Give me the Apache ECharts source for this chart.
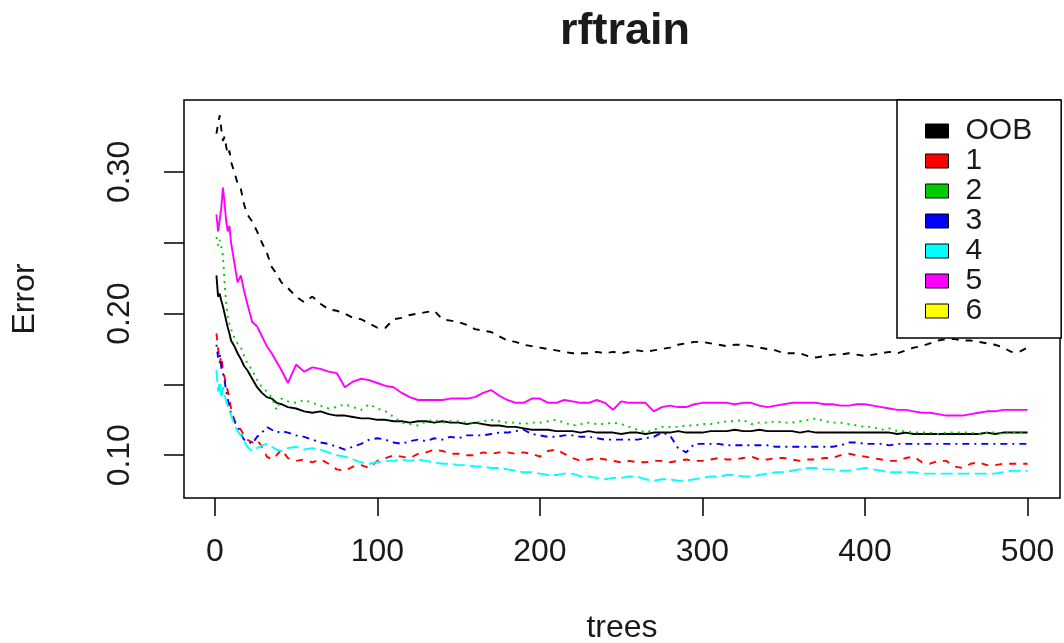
<!DOCTYPE html>
<html>
<head>
<meta charset="utf-8">
<script src="https://cdn.jsdelivr.net/npm/echarts@6/dist/echarts.min.js"></script>
<style>
html,body{margin:0;padding:0;background:#fff;}
#chart{width:1064px;height:643px;}
</style>
</head>
<body>
<div id="chart"></div>
<script>
// ---- data ----
const trees = [1,2,3,4,5,6,7,8,9,10,
  12,14,16,18,20,
  23,26,29,32,35,38,41,
  45,50,55,60,65,70,75,80,85,90,95,100,
  105,110,115,120,125,130,135,140,145,150,155,160,165,170,175,180,185,190,195,200,
  205,210,215,220,225,230,235,240,245,250,255,260,265,270,275,280,285,290,295,300,
  305,310,315,320,325,330,335,340,345,350,355,360,365,370,375,380,385,390,395,400,
  405,410,415,420,425,430,435,440,445,450,455,460,465,470,475,480,485,490,495,500];

const seriesNames = ['OOB','1','2','3','4','5','6'];
const legendColors = ['#000000','#ff0000','#00cd00','#0000ff','#00ffff','#ff00ff','#ffff00'];

const errOOB = [0.227,0.212,0.214,0.209,0.205,0.200,0.195,0.190,0.186,0.181,
  0.177,0.172,0.168,0.163,0.160,
  0.154,0.148,0.144,0.141,0.140,0.137,0.136,
  0.134,0.133,0.131,0.130,0.131,0.129,0.128,0.128,0.127,0.126,0.126,0.125,
  0.125,0.124,0.124,0.123,0.124,0.124,0.123,0.124,0.123,0.123,0.122,0.123,0.122,0.121,0.121,0.120,0.120,0.119,0.118,0.118,
  0.118,0.117,0.117,0.117,0.116,0.117,0.116,0.116,0.116,0.115,0.116,0.116,0.115,0.116,0.116,0.116,0.117,0.116,0.116,0.116,
  0.117,0.117,0.117,0.118,0.117,0.117,0.118,0.117,0.117,0.117,0.117,0.116,0.117,0.116,0.116,0.116,0.116,0.116,0.116,0.116,
  0.116,0.116,0.116,0.115,0.116,0.115,0.115,0.115,0.115,0.115,0.115,0.115,0.115,0.115,0.116,0.115,0.116,0.116,0.116,0.116];

const err1 = [0.186,0.176,0.165,0.170,0.160,0.155,0.150,0.145,0.139,0.133,
  0.125,0.121,0.118,0.114,0.111,
  0.109,0.111,0.106,0.099,0.097,0.100,0.104,
  0.098,0.096,0.097,0.095,0.097,0.094,0.090,0.089,0.092,0.093,0.091,0.096,
  0.098,0.100,0.099,0.098,0.101,0.102,0.104,0.103,0.101,0.101,0.100,0.100,0.102,0.101,0.102,0.102,0.101,0.102,0.101,0.099,
  0.103,0.104,0.101,0.098,0.096,0.097,0.098,0.097,0.096,0.095,0.096,0.095,0.095,0.096,0.096,0.095,0.096,0.097,0.096,0.096,
  0.097,0.098,0.097,0.097,0.098,0.099,0.097,0.097,0.098,0.098,0.097,0.096,0.097,0.097,0.098,0.098,0.100,0.101,0.100,0.099,
  0.098,0.097,0.096,0.096,0.098,0.099,0.095,0.094,0.096,0.096,0.092,0.091,0.094,0.095,0.093,0.093,0.094,0.094,0.094,0.094];

const err2 = [0.254,0.248,0.252,0.247,0.241,0.222,0.207,0.198,0.193,0.189,
  0.183,0.179,0.176,0.170,0.165,
  0.160,0.153,0.148,0.145,0.141,0.132,0.140,
  0.138,0.137,0.139,0.137,0.135,0.133,0.134,0.136,0.134,0.132,0.136,0.133,
  0.131,0.127,0.123,0.122,0.121,0.124,0.125,0.123,0.124,0.124,0.123,0.123,0.124,0.125,0.124,0.123,0.123,0.122,0.123,0.123,
  0.124,0.125,0.123,0.121,0.122,0.123,0.122,0.122,0.123,0.122,0.120,0.118,0.116,0.118,0.120,0.120,0.120,0.121,0.121,0.122,
  0.122,0.123,0.124,0.124,0.125,0.122,0.123,0.123,0.124,0.123,0.123,0.124,0.125,0.126,0.124,0.123,0.123,0.122,0.121,0.120,
  0.120,0.118,0.119,0.117,0.117,0.116,0.116,0.116,0.115,0.116,0.116,0.116,0.116,0.115,0.116,0.116,0.115,0.116,0.116,0.116];

const err3 = [0.178,0.169,0.172,0.162,0.158,0.153,0.145,0.140,0.133,0.130,
  0.124,0.120,0.115,0.111,0.110,
  0.108,0.113,0.116,0.120,0.118,0.116,0.117,
  0.116,0.114,0.113,0.111,0.109,0.108,0.106,0.104,0.106,0.108,0.111,0.112,
  0.111,0.109,0.108,0.110,0.111,0.110,0.112,0.111,0.113,0.112,0.114,0.114,0.114,0.115,0.116,0.116,0.117,0.118,0.115,0.114,
  0.113,0.113,0.114,0.114,0.113,0.113,0.112,0.111,0.111,0.111,0.111,0.111,0.112,0.113,0.116,0.114,0.105,0.102,0.108,0.108,
  0.108,0.108,0.107,0.107,0.107,0.107,0.107,0.107,0.106,0.106,0.106,0.106,0.106,0.106,0.106,0.106,0.107,0.109,0.109,0.108,
  0.108,0.108,0.107,0.108,0.108,0.108,0.108,0.108,0.108,0.108,0.108,0.108,0.108,0.108,0.108,0.108,0.108,0.108,0.108,0.108];

const err4 = [0.160,0.145,0.152,0.140,0.148,0.143,0.138,0.135,0.131,0.128,
  0.122,0.117,0.114,0.110,0.106,
  0.103,0.105,0.107,0.108,0.106,0.104,0.103,
  0.105,0.106,0.104,0.105,0.104,0.102,0.100,0.099,0.097,0.095,0.094,0.095,
  0.096,0.096,0.097,0.096,0.097,0.096,0.095,0.094,0.094,0.093,0.093,0.092,0.092,0.091,0.091,0.090,0.089,0.088,0.088,0.087,
  0.086,0.086,0.087,0.087,0.085,0.085,0.084,0.083,0.084,0.084,0.085,0.085,0.083,0.082,0.083,0.083,0.082,0.082,0.083,0.084,
  0.085,0.085,0.086,0.086,0.085,0.085,0.086,0.087,0.088,0.088,0.089,0.090,0.091,0.091,0.090,0.090,0.089,0.089,0.090,0.091,
  0.090,0.089,0.088,0.088,0.088,0.088,0.087,0.087,0.087,0.087,0.087,0.087,0.087,0.087,0.087,0.087,0.088,0.089,0.089,0.089];

const err5 = [0.270,0.258,0.266,0.275,0.289,0.278,0.265,0.258,0.262,0.250,
  0.236,0.222,0.227,0.216,0.207,
  0.194,0.191,0.184,0.177,0.172,0.166,0.160,
  0.151,0.164,0.159,0.162,0.161,0.159,0.158,0.148,0.152,0.154,0.153,0.151,
  0.149,0.148,0.144,0.141,0.139,0.139,0.139,0.139,0.140,0.140,0.140,0.141,0.144,0.146,0.142,0.139,0.137,0.137,0.140,0.140,
  0.137,0.137,0.139,0.138,0.137,0.137,0.139,0.137,0.132,0.138,0.137,0.137,0.137,0.131,0.134,0.135,0.134,0.134,0.136,0.137,
  0.137,0.137,0.137,0.136,0.137,0.137,0.135,0.134,0.135,0.136,0.137,0.137,0.137,0.137,0.136,0.136,0.135,0.135,0.136,0.136,
  0.135,0.134,0.133,0.132,0.132,0.131,0.130,0.130,0.129,0.128,0.128,0.128,0.129,0.130,0.131,0.131,0.132,0.132,0.132,0.132];

const err6 = [0.327,0.334,0.340,0.330,0.322,0.325,0.318,0.312,0.315,0.307,
  0.300,0.292,0.288,0.277,0.270,
  0.265,0.258,0.250,0.243,0.233,0.228,0.222,
  0.218,0.212,0.208,0.212,0.207,0.203,0.202,0.200,0.197,0.196,0.193,0.190,
  0.190,0.196,0.197,0.199,0.200,0.201,0.202,0.196,0.195,0.194,0.192,0.189,0.188,0.187,0.184,0.181,0.180,0.178,0.177,0.176,
  0.175,0.174,0.173,0.172,0.172,0.172,0.173,0.172,0.173,0.172,0.173,0.174,0.173,0.174,0.175,0.176,0.178,0.179,0.180,0.180,
  0.179,0.178,0.177,0.178,0.178,0.177,0.176,0.175,0.174,0.172,0.172,0.172,0.170,0.169,0.170,0.171,0.171,0.172,0.171,0.170,
  0.171,0.172,0.173,0.172,0.174,0.176,0.177,0.179,0.181,0.182,0.182,0.181,0.181,0.180,0.179,0.178,0.176,0.173,0.173,0.176];

const xTicks = [0,100,200,300,400,500];
const yTicks = [0.10,0.15,0.20,0.25,0.30];
const yTickLabels = [0.10,0.20,0.30];

// ---- styles ----
const seriesValues = [errOOB, err1, err2, err3, err4, err5, err6];
const lineColors = ['#000000','#ff0000','#00cd00','#0000ff','#00ffff','#ff00ff','#000000'];
const lineDash = ['solid',[7,7],[2,5],[2,5,7,5],[12,5],'solid',[7,7]];
const FONT = "'Liberation Sans', Arial, sans-serif";

const chart = echarts.init(document.getElementById('chart'), null, {renderer:'canvas'});

const series = seriesNames.map((name, k) => ({
  name: name,
  type: 'line',
  showSymbol: false,
  symbol: 'none',
  data: trees.map((t, i) => [t, seriesValues[k][i]]),
  lineStyle: {color: lineColors[k], width: 1.9, type: lineDash[k]},
  itemStyle: {color: legendColors[k]},
  z: 2 + k
}));

chart.setOption({
  animation: false,
  backgroundColor: '#ffffff',
  title: {
    text: 'rftrain',
    left: 620,
    top: 4,
    textAlign: 'center',
    textStyle: {fontFamily: FONT, fontWeight: 'bold', fontSize: 45, color: '#1a1a1a'}
  },
  grid: {
    left: 184, top: 100, right: 4, bottom: 145,
    outerBoundsMode: 'none',
    containLabel: false,
    show: true, borderColor: '#000', borderWidth: 1.5, backgroundColor: '#fff'
  },
  legend: {
    orient: 'vertical',
    left: 897,
    top: 100,
    padding: [16, 29, 12, 28],
    itemGap: 0,
    itemWidth: 23,
    itemHeight: 14,
    icon: 'rect',
    selectedMode: false,
    backgroundColor: '#fff',
    borderColor: '#000',
    borderWidth: 1.5,
    itemStyle: {borderColor: '#000', borderWidth: 1},
    textStyle: {fontFamily: FONT, fontSize: 30, lineHeight: 30, color: '#1a1a1a', padding: [0,0,0,12]},
    data: seriesNames.map((n, k) => ({name: n, icon: 'rect', itemStyle: {color: legendColors[k], borderColor: '#000', borderWidth: 1}}))
  },
  xAxis: {
    type: 'value',
    min: -18.96,
    max: 519.96,
    name: 'trees',
    nameLocation: 'middle',
    nameGap: 114,
    nameTextStyle: {fontFamily: FONT, fontSize: 32, color: '#1a1a1a'},
    axisLine: {show: false, onZero: false},
    splitLine: {show: false},
    axisTick: {show: true, inside: false, length: 18, customValues: xTicks, lineStyle: {color: '#000', width: 1.5}},
    axisLabel: {customValues: xTicks, margin: 38, fontFamily: FONT, fontSize: 32, color: '#1a1a1a'}
  },
  yAxis: {
    type: 'value',
    min: 0.0698,
    max: 0.3508,
    name: 'Error',
    nameLocation: 'middle',
    nameRotate: 90,
    nameGap: 143,
    nameTextStyle: {fontFamily: FONT, fontSize: 32, color: '#1a1a1a'},
    axisLine: {show: false, onZero: false},
    splitLine: {show: false},
    axisTick: {show: true, inside: false, length: 20, customValues: yTicks, lineStyle: {color: '#000', width: 1.5}},
    axisLabel: {customValues: yTickLabels, rotate: 90, margin: 48, fontFamily: FONT, fontSize: 32, color: '#1a1a1a',
      formatter: v => v.toFixed(2)}
  },
  series: series
});
</script>
</body>
</html>
